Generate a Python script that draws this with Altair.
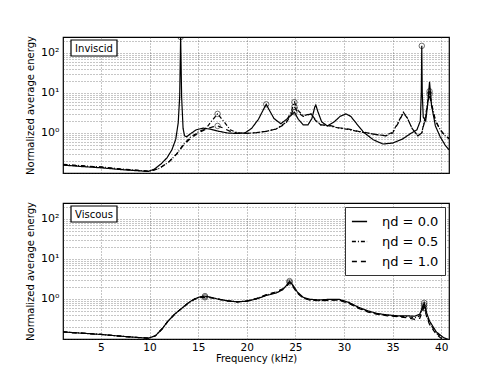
import altair as alt
import pandas as pd

# ---------------- data ----------------
case_labels = ["ηd = 0.0", "ηd = 0.5", "ηd = 1.0"]

# Inviscid panel
inv_f_00 = [1.1, 3, 5, 7, 9, 9.9, 10.5, 11.2, 11.8, 12.3, 12.7, 12.95, 13.1, 13.2, 13.3, 13.45,
            13.6, 13.8, 14.2, 14.8, 15.5, 16.2, 17, 18, 19, 19.8, 20.5, 21.2, 21.7, 22.0, 22.3,
            22.8, 23.5, 24.2, 24.9, 25.3, 25.8, 26.3, 26.7, 27.0, 27.1, 27.3, 27.7, 28.3, 29,
            29.6, 30.2, 30.7, 31.3, 32, 33, 34, 35, 36, 36.8, 37.5, 37.85, 37.95, 38.0, 38.05,
            38.15, 38.4, 38.6, 38.8, 39.0, 39.4, 39.9, 40.4, 40.8]
inv_v_00 = [0.158, 0.145, 0.135, 0.122, 0.113, 0.11, 0.125, 0.17, 0.24, 0.38, 0.7, 1.8, 8, 260, 8, 1.3,
            0.85, 0.8, 0.95, 1.2, 1.32, 1.25, 1.12, 1.0, 0.97, 1.0, 1.3, 2.2, 3.8, 5.2, 3.8,
            2.3, 1.7, 2.3, 3.3, 2.2, 1.6, 1.6, 2.3, 4.5, 5.0, 3.5, 1.9, 1.5, 1.9,
            2.6, 3.0, 2.6, 1.7, 1.05, 0.68, 0.53, 0.56, 0.7, 0.95, 1.2, 2.0, 10, 150, 10,
            2.5, 2.0, 5.0, 19, 5.0, 1.5, 0.8, 0.5, 0.38]

inv_f_05 = [1.1, 3, 5, 7, 9, 10, 11, 12, 12.8, 13.5, 14.2, 15, 15.8, 16.4, 17.0, 17.6, 18.3,
            19, 20, 21, 22, 23, 24, 24.6, 24.9, 25.3, 25.8, 26.6, 27.1, 27.6, 28.5, 29.5, 30.5,
            31.5, 32.5, 33.5, 34.3, 35, 35.6, 36.1, 36.5, 37, 37.6, 38.0, 38.4, 38.65, 38.8,
            39.0, 39.4, 39.9, 40.4, 40.8]
inv_v_05 = [0.165, 0.152, 0.142, 0.127, 0.116, 0.11, 0.13, 0.19, 0.3, 0.52, 0.78, 1.05, 1.3, 2.0, 3.0, 2.0, 1.2,
            1.02, 0.98, 1.02, 1.1, 1.25, 1.8, 3.6, 5.9, 3.6, 2.7, 3.0, 2.1, 1.6, 1.5, 1.32, 1.22,
            1.08, 0.98, 0.9, 0.86, 1.05, 1.9, 3.3, 2.4, 1.3, 0.85, 1.0, 2.8, 7, 11,
            5.5, 2.1, 1.2, 0.85, 0.74]

inv_f_10 = [1.1, 3, 5, 7, 9, 10, 11, 12, 12.8, 13.5, 14.2, 15, 15.8, 16.5, 17.0, 17.5, 18.3,
            19, 20, 21, 22, 23, 24, 24.6, 24.9, 25.3, 25.8, 26.6, 27.1, 27.6, 28.5, 29.5, 30.5,
            31.5, 32.5, 33.5, 34.3, 35, 35.6, 36.1, 36.5, 37, 37.6, 38.0, 38.4, 38.65, 38.8,
            39.0, 39.4, 39.9, 40.4, 40.8]
inv_v_10 = [0.16, 0.15, 0.14, 0.125, 0.115, 0.11, 0.13, 0.19, 0.3, 0.5, 0.72, 1.0, 1.25, 1.42, 1.5, 1.35, 1.1,
            1.0, 0.98, 1.02, 1.1, 1.25, 1.7, 3.0, 4.5, 3.2, 2.6, 3.0, 2.0, 1.6, 1.55, 1.35, 1.25,
            1.1, 1.0, 0.9, 0.85, 1.0, 1.8, 3.2, 2.4, 1.3, 0.85, 1.0, 2.5, 6, 9.4,
            5.0, 2.0, 1.2, 0.85, 0.72]

inv_circle_f = [13.2, 17.0, 17.0, 22.0, 24.9, 24.9, 24.9, 38.0, 38.8, 38.8]
inv_circle_v = [250, 3.0, 1.5, 5.2, 5.9, 4.5, 3.3, 150, 11, 9.4]

# Viscous panel
vis_f_00 = [1.1, 3, 5, 7, 9, 9.9, 10.6, 11.3, 11.9, 12.6, 13.3, 14, 14.6, 15.2, 15.6, 16.2, 17,
            18, 19, 20, 21, 22, 23, 23.7, 24.1, 24.4, 24.7, 25.2, 25.8, 26.5, 27.5, 28.5, 29.5,
            30.5, 31.5, 32.5, 33.5, 34.5, 35.5, 36.5, 37.3, 37.8, 38.1, 38.25, 38.5, 38.8,
            39.5, 40.2, 40.8]
vis_v_00 = [0.15, 0.14, 0.13, 0.118, 0.108, 0.105, 0.12, 0.18, 0.28, 0.42, 0.58, 0.8, 1.0, 1.13, 1.18, 1.12, 1.0,
            0.9, 0.85, 0.88, 1.0, 1.22, 1.4, 1.7, 2.2, 2.8, 2.3, 1.5, 1.1, 0.98, 0.95, 0.98, 0.98,
            0.82, 0.62, 0.5, 0.43, 0.4, 0.38, 0.38, 0.37, 0.42, 0.65, 0.8, 0.45, 0.28,
            0.15, 0.11, 0.095]

vis_f_05 = vis_f_00
vis_v_05 = [0.15, 0.14, 0.13, 0.118, 0.108, 0.105, 0.12, 0.18, 0.28, 0.42, 0.58, 0.8, 0.98, 1.1, 1.14, 1.1, 1.0,
            0.9, 0.85, 0.88, 1.02, 1.25, 1.45, 1.75, 2.15, 2.65, 2.2, 1.45, 1.07, 0.95, 0.92, 0.95, 0.95,
            0.8, 0.6, 0.48, 0.42, 0.39, 0.37, 0.36, 0.34, 0.38, 0.58, 0.7, 0.4, 0.25,
            0.14, 0.1, 0.088]

vis_f_10 = vis_f_00
vis_v_10 = [0.15, 0.14, 0.13, 0.118, 0.108, 0.105, 0.12, 0.18, 0.28, 0.42, 0.58, 0.8, 0.97, 1.08, 1.1, 1.08, 1.0,
            0.9, 0.85, 0.89, 1.03, 1.28, 1.5, 1.8, 2.1, 2.55, 2.1, 1.4, 1.05, 0.93, 0.9, 0.93, 0.93,
            0.78, 0.58, 0.47, 0.41, 0.38, 0.36, 0.34, 0.31, 0.33, 0.52, 0.62, 0.36, 0.23,
            0.13, 0.095, 0.085]

vis_circle_f = [15.7, 15.7, 24.4, 24.4, 38.25, 38.25, 38.25]
vis_circle_v = [1.18, 1.1, 2.8, 2.6, 0.8, 0.7, 0.6]

# axes
x_domain = [1.1, 40.8]
y_domain = [0.1, 250]
x_tick_values = [5, 10, 15, 20, 25, 30, 35, 40]
y_tick_values = [round(m * d, 4) for d in (0.1, 1, 10, 100) for m in range(1, 10) if m * d <= 250]
y_tick_labels = {1: "10⁰", 10: "10¹", 100: "10²"}
dash_styles = [[1, 0], [4, 2, 1, 2], [5, 4]]

FONT = "DejaVu Sans"


def long_frame(fs, vs):
    rows = []
    for label, f_list, v_list in zip(case_labels, fs, vs):
        for f, v in zip(f_list, v_list):
            rows.append({"freq": f, "energy": v, "case": label})
    return pd.DataFrame(rows)


inv_df = long_frame([inv_f_00, inv_f_05, inv_f_10], [inv_v_00, inv_v_05, inv_v_10])
vis_df = long_frame([vis_f_00, vis_f_05, vis_f_10], [vis_v_00, vis_v_05, vis_v_10])
inv_pts = pd.DataFrame({"freq": inv_circle_f, "energy": inv_circle_v})
vis_pts = pd.DataFrame({"freq": vis_circle_f, "energy": vis_circle_v})

label_expr = " : ".join(
    f"datum.value == {k} ? '{v}'" for k, v in y_tick_labels.items()
) + " : ''"


def panel(df, pts, name, show_x, show_legend):
    x_axis = alt.Axis(values=x_tick_values, labels=show_x, ticks=False, domain=False,
                      title="Frequency (kHz)" if show_x else None, grid=True,
                      labelFontSize=10.5, titleFontSize=10, labelPadding=3, titlePadding=1,
                      labelFont=FONT, titleFont=FONT, labelColor="black", titleColor="black",
                      titleFontWeight="normal")
    y_axis = alt.Axis(values=y_tick_values, labelExpr=label_expr, ticks=False, domain=False,
                      title="Normalized average energy", grid=True,
                      labelFontSize=11, titleFontSize=10, labelPadding=4, titlePadding=5,
                      labelFont=FONT, titleFont=FONT, labelColor="black", titleColor="black",
                      titleFontWeight="normal")
    x = alt.X("freq:Q", scale=alt.Scale(domain=x_domain, nice=False, zero=False), axis=x_axis)
    y = alt.Y("energy:Q", scale=alt.Scale(type="log", domain=y_domain, nice=False), axis=y_axis)
    legend = None
    if show_legend:
        legend = alt.Legend(title=None, orient="top-right", offset=4, symbolType="stroke",
                            symbolSize=230, symbolStrokeWidth=1.3, symbolStrokeColor="black",
                            labelFontSize=13, labelFont=FONT, labelColor="black",
                            labelOffset=14, rowPadding=4, padding=6,
                            strokeColor="#333", fillColor="white", cornerRadius=0)
    lines = alt.Chart(df).mark_line(color="black", strokeWidth=1.2, clip=True).encode(
        x=x, y=y,
        strokeDash=alt.StrokeDash("case:N", scale=alt.Scale(domain=case_labels, range=dash_styles),
                                  legend=legend),
        detail="case:N",
    )
    circles = alt.Chart(pts).mark_point(shape="circle", size=30, filled=False, color="black",
                                        strokeWidth=0.8, clip=True).encode(x="freq:Q", y="energy:Q")
    box = alt.Chart(pd.DataFrame({"name": [name]})).mark_rect(
        fill="white", stroke="black", strokeWidth=1.2).encode(
        x=alt.value(8), x2=alt.value(54), y=alt.value(3), y2=alt.value(19))
    text = alt.Chart(pd.DataFrame({"name": [name]})).mark_text(
        font=FONT, fontSize=10, color="black", align="center", baseline="middle").encode(
        text="name:N", x=alt.value(31), y=alt.value(11.5))
    return alt.layer(lines, circles, box, text).properties(width=386, height=136)


top = panel(inv_df, inv_pts, "Inviscid", show_x=False, show_legend=False)
bottom = panel(vis_df, vis_pts, "Viscous", show_x=True, show_legend=True)

chart = alt.vconcat(top, bottom, spacing=24).resolve_legend(strokeDash="independent").properties(
    padding={"left": 16, "top": 26, "right": 5, "bottom": 5}
).configure_view(stroke="black", strokeWidth=1.2).configure_axis(
    gridColor="#333", gridDash=[1, 2], gridWidth=0.7, gridOpacity=0.8
)

chart.save("out.html", embed_options={"renderer": "svg", "actions": False})
